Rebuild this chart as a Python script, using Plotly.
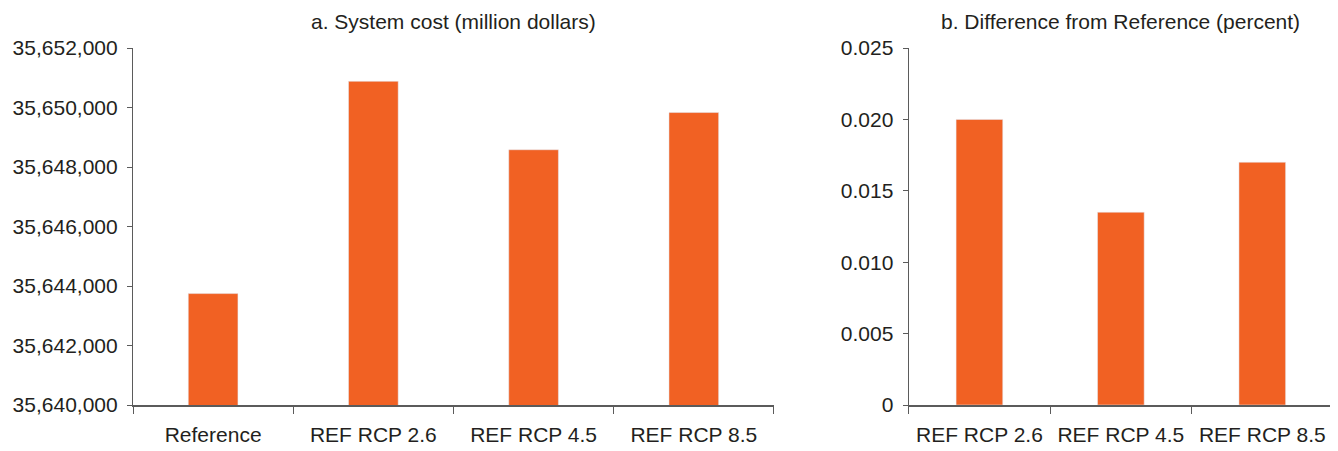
import plotly.graph_objects as go

# Data
cats_a = ["Reference", "REF RCP 2.6", "REF RCP 4.5", "REF RCP 8.5"]
cost_a = [35643745, 35650880, 35648580, 35649830]
cats_b = ["REF RCP 2.6", "REF RCP 4.5", "REF RCP 8.5"]
diff_b = [0.0200, 0.0135, 0.0170]
ticks_a = [35640000, 35642000, 35644000, 35646000, 35648000, 35650000, 35652000]
ticks_b = [0, 0.005, 0.010, 0.015, 0.020, 0.025]
ticktext_b = ["0", "0.005", "0.010", "0.015", "0.020", "0.025"]

BAR = "#F16123"
AX = "#5b5b5b"
TXT = "#231f20"
FONT = "Liberation Sans, Arial, sans-serif"

fig = go.Figure()
fig.add_trace(go.Bar(x=cats_a, y=cost_a, marker_color=BAR, width=0.31,
                     xaxis="x", yaxis="y", showlegend=False))
fig.add_trace(go.Bar(x=cats_b, y=diff_b, marker_color=BAR, width=0.33,
                     xaxis="x2", yaxis="y2", showlegend=False))

# page body has an 8px margin; compensate
OFF = 8
W, H = 1338 - OFF, 451 - OFF
L, T = 131 - OFF, 48 - OFF
R = W - (1333 - OFF)
B = H - (408 - OFF)
pw = W - L - R
d1 = (773 - 131) / pw
d2 = (908 - 131) / pw

common_x = dict(showline=True, linecolor=AX, linewidth=1.5, ticks="outside",
                tickson="boundaries", ticklen=7, tickcolor=AX, tickwidth=1.2,
                ticklabelstandoff=10,
                showgrid=False, tickfont=dict(size=21, color=TXT, family=FONT))
common_y = dict(showline=True, linecolor=AX, linewidth=1.2, ticks="outside",
                ticklen=5, tickcolor=AX, tickwidth=1.2, showgrid=False,
                ticklabelstandoff=5,
                zeroline=False, tickfont=dict(size=21, color=TXT, family=FONT))

fig.update_layout(
    width=W, height=H,
    margin=dict(l=L, r=R, t=T, b=B),
    paper_bgcolor="white", plot_bgcolor="white",
    font=dict(family=FONT, color=TXT),
    xaxis=dict(domain=[0, d1], anchor="y", **common_x),
    yaxis=dict(range=[35640000, 35652000], tickvals=ticks_a, tickformat=",d",
               anchor="x", **common_y),
    xaxis2=dict(domain=[d2, 1], anchor="y2", **common_x),
    yaxis2=dict(range=[0, 0.025], tickvals=ticks_b, ticktext=ticktext_b,
                anchor="x2", **common_y),
    annotations=[
        dict(text="a. System cost (million dollars)", x=0.5, xref="x domain",
             y=1.0, yref="y domain", yshift=27, showarrow=False,
             font=dict(size=21, color=TXT, family=FONT), xanchor="center", yanchor="middle"),
        dict(text="b. Difference from Reference (percent)", x=0.5, xref="x2 domain",
             y=1.0, yref="y2 domain", yshift=27, showarrow=False,
             font=dict(size=21, color=TXT, family=FONT), xanchor="center", yanchor="middle"),
    ],
)

fig.write_html("out.html")
